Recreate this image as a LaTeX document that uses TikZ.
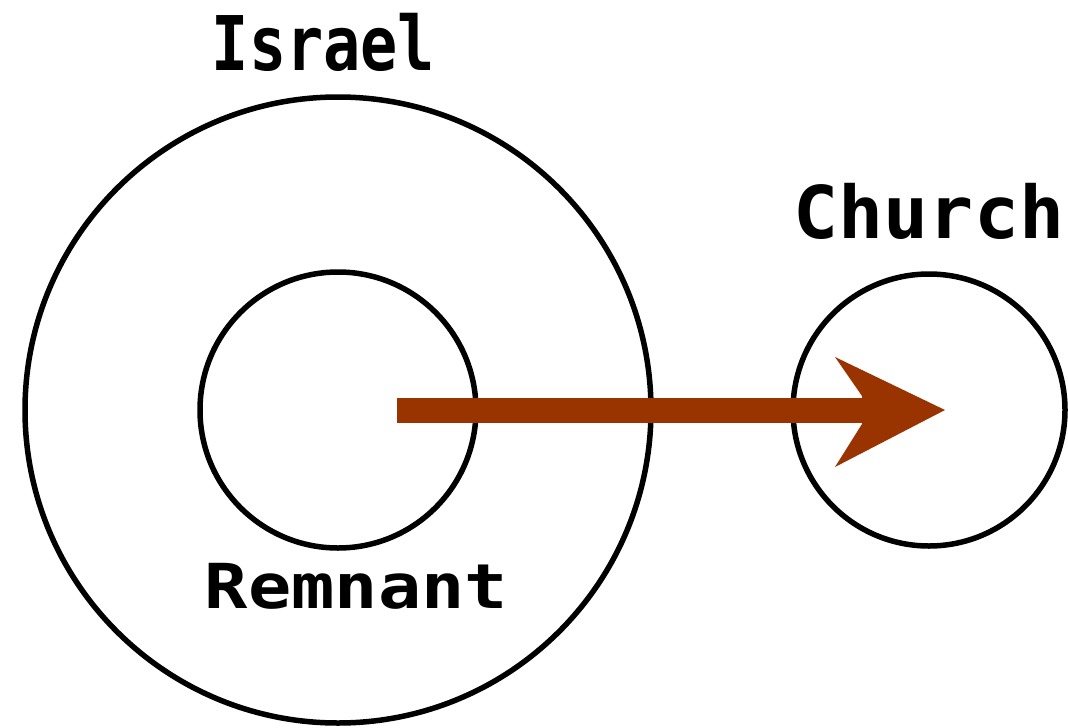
\documentclass[tikz,border=0pt]{standalone}
\usepackage{fontspec}
\newfontfamily\labelfont{DejaVu Sans Mono Bold}
\definecolor{arrowbrown}{HTML}{993300}
\begin{document}
\begin{tikzpicture}[x=1pt,y=-1pt,
  ring/.style={draw=black,line width=5.5pt,circle,inner sep=0pt},
  lbl/.style={anchor=base,inner sep=0pt,text=black}]
\useasboundingbox (0,0) rectangle (1068,728);
\node[ring,minimum size=626pt] (israel) at (338,410) {};
\node[ring,minimum size=276pt] (remnant) at (338,410) {};
\node[ring,minimum size=272pt] (church) at (929,410) {};
\node[lbl] (tisrael) at (323.5,70) {\labelfont\fontsize{75.4}{80}\selectfont\scalebox{0.82}[1]{Israel}};
\node[lbl] (tremnant) at (356.5,608) {\labelfont\fontsize{62}{66}\selectfont\scalebox{1.16}[1]{Remnant}};
\node[lbl] (tchurch) at (929,238) {\labelfont\fontsize{72.7}{76}\selectfont\scalebox{1.03}[1]{Church}};
\coordinate (start) at (397,398);
\coordinate (tip) at (945,410);
\fill[arrowbrown] (start) rectangle (862,423);
\fill[arrowbrown] (tip) -- (835,357) -- (862,396) -- (862,424) -- (835,467) -- cycle;
\end{tikzpicture}
\end{document}
